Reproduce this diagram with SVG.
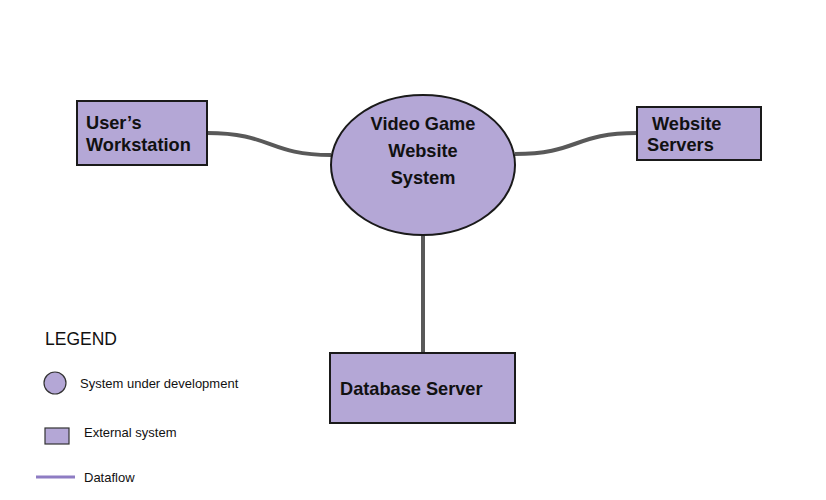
<svg xmlns="http://www.w3.org/2000/svg" width="826" height="500" viewBox="0 0 826 500">
<style>
.node{fill:#b4a7d6;stroke:#1a1a1a;stroke-width:2}
.flow{fill:none;stroke:#595959;stroke-width:4}
.lbl{font-family:"Liberation Sans",Arial,sans-serif;font-weight:bold;font-size:18.2px;fill:#111}
.leg{font-family:"Liberation Sans",Arial,sans-serif;fill:#111}
</style>
<rect width="826" height="500" fill="#fff"/>
<g id="connectors">
<path class="flow" d="M207,133 C272,133 268,155 331,155"/>
<path class="flow" d="M515,154 C578,154 574,133 637,133"/>
<path class="flow" d="M423,235 L423,353"/>
</g>
<g id="users-workstation">
<rect class="node" x="77" y="101" width="130" height="64"/>
<text class="lbl" x="86" y="129">User’s</text>
<text class="lbl" x="86" y="151">Workstation</text>
</g>
<g id="video-game-website-system">
<ellipse class="node" cx="423" cy="165" rx="92" ry="70"/>
<text class="lbl" x="423" y="130" text-anchor="middle">Video Game</text>
<text class="lbl" x="423" y="157" text-anchor="middle">Website</text>
<text class="lbl" x="423" y="184" text-anchor="middle">System</text>
</g>
<g id="website-servers">
<rect class="node" x="637" y="107" width="124" height="53"/>
<text class="lbl" x="652" y="130">Website</text>
<text class="lbl" x="647" y="151">Servers</text>
</g>
<g id="database-server">
<rect class="node" x="330" y="353" width="185" height="70"/>
<text class="lbl" x="340" y="395">Database Server</text>
</g>
<g id="legend">
<text class="leg" x="45" y="345" font-size="17.5">LEGEND</text>
<circle cx="55" cy="383" r="11" fill="#b4a7d6" stroke="#333" stroke-width="1.2"/>
<text class="leg" x="80" y="388" font-size="13">System under development</text>
<rect x="45" y="428" width="24" height="16" fill="#b4a7d6" stroke="#333" stroke-width="1.2"/>
<text class="leg" x="84" y="437" font-size="13">External system</text>
<line x1="36" y1="477" x2="75" y2="477" stroke="#8e7cc3" stroke-width="3"/>
<text class="leg" x="84" y="482" font-size="13">Dataflow</text>
</g>
</svg>
